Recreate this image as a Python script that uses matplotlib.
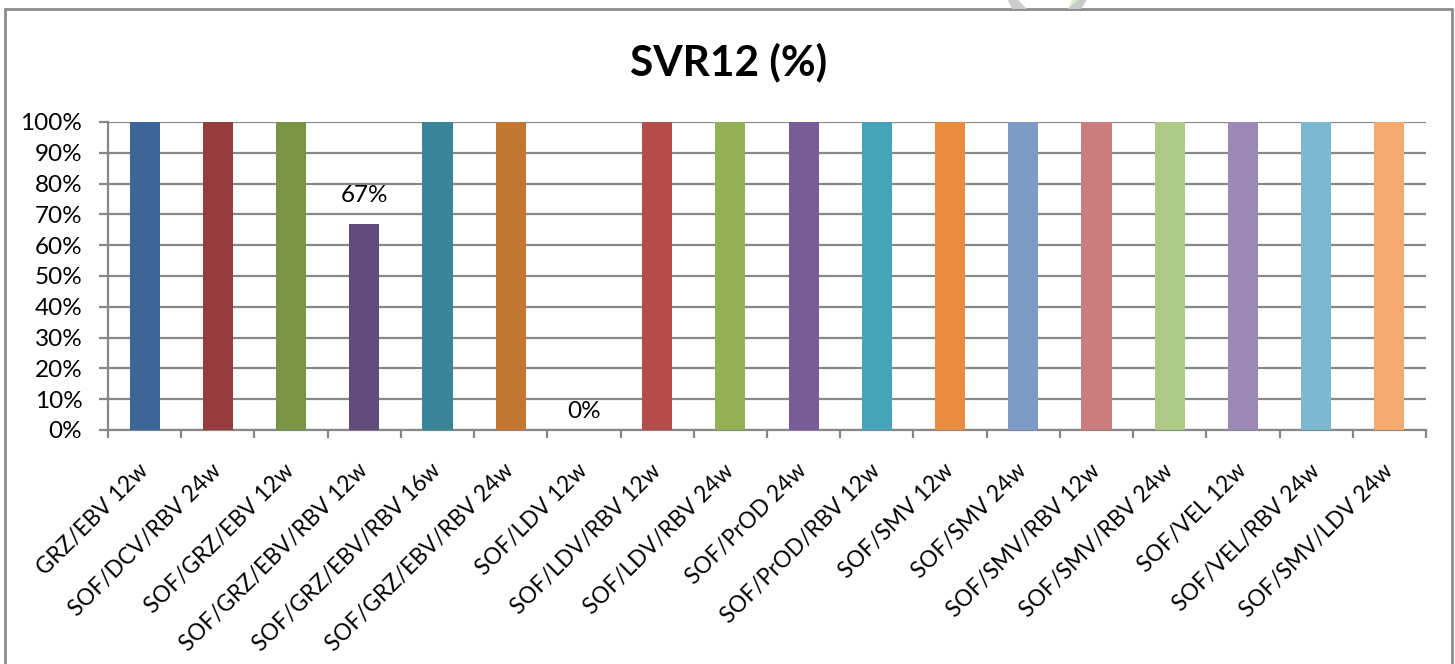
import matplotlib
matplotlib.use("Agg")
import matplotlib.pyplot as plt
from matplotlib.patches import Rectangle, Polygon
from matplotlib.ticker import FuncFormatter, MultipleLocator

# Regimens and SVR12 rates (%)
regimens = [
    "GRZ/EBV 12w", "SOF/DCV/RBV 24w", "SOF/GRZ/EBV 12w", "SOF/GRZ/EBV/RBV 12w",
    "SOF/GRZ/EBV/RBV 16w", "SOF/GRZ/EBV/RBV 24w", "SOF/LDV 12w", "SOF/LDV/RBV 12w",
    "SOF/LDV/RBV 24w", "SOF/PrOD 24w", "SOF/PrOD/RBV 12w", "SOF/SMV 12w",
    "SOF/SMV 24w", "SOF/SMV/RBV 12w", "SOF/SMV/RBV 24w", "SOF/VEL 12w",
    "SOF/VEL/RBV 24w", "SOF/SMV/LDV 24w",
]
svr12 = [100, 100, 100, 67, 100, 100, 0, 100, 100, 100, 100, 100, 100, 100, 100, 100, 100, 100]
labelled = {3: "67%", 6: "0%"}

bar_colors = [
    "#3D6598", "#963C3C", "#779544", "#624C7D", "#388698", "#C47633",
    "#4F81BD", "#B54B4B", "#92B054", "#775C98", "#47A3BA", "#E88C40",
    "#7E9BC8", "#CB7D7D", "#ADC986", "#9B89B5", "#7CB9D0", "#F6A96F",
]

W, H = 1455, 664
fig = plt.figure(figsize=(W / 100, H / 100), dpi=100)
fig.patch.set_facecolor("white")

FONT = "Lato"
grid_col = "#878787"

ax = fig.add_axes([108 / W, 1 - 430 / H, (1426 - 108) / W, (430 - 122) / H])
x = list(range(len(regimens)))
ax.bar(x, svr12, width=0.41, color=bar_colors, zorder=3)

ax.set_xlim(-0.5, len(regimens) - 0.5)
ax.set_ylim(0, 100)
ax.yaxis.set_major_locator(MultipleLocator(10))
ax.yaxis.set_major_formatter(FuncFormatter(lambda v, p: f"{v:.0f}%"))
ax.grid(axis="y", color=grid_col, linewidth=1.6, zorder=0)
ax.set_axisbelow(True)

for s in ("top", "right"):
    ax.spines[s].set_visible(False)
for s in ("left", "bottom"):
    ax.spines[s].set_color(grid_col)
    ax.spines[s].set_linewidth(1.6)

ax.tick_params(axis="y", length=6.5, width=1.6, color=grid_col, pad=12,
               labelsize=17.5, labelcolor="black")
for t in ax.get_yticklabels():
    t.set_fontfamily(FONT)

# category boundary ticks
ax.set_xticks([i - 0.5 for i in range(len(regimens) + 1)], minor=True)
ax.tick_params(axis="x", which="minor", length=6, width=1.6, color=grid_col)
ax.set_xticks(x)
ax.set_xticklabels(regimens, rotation=45, ha="right", va="center",
                   rotation_mode="anchor", fontsize=16.3, fontfamily=FONT)
ax.tick_params(axis="x", which="major", length=0, pad=27)

label_offsets = {3: 13, 6: 6}
for i, txt in labelled.items():
    ax.annotate(txt, (i, svr12[i]), xytext=(0, label_offsets[i]), textcoords="offset points",
                ha="center", va="bottom", fontsize=17.5, fontfamily=FONT)

fig.text(729 / W, 1 - 75 / H, "SVR12 (%)", ha="center", va="baseline",
         fontsize=30.5, fontweight="bold", fontfamily=FONT)

# chart frame
fig.patches.append(Rectangle((5 / W, -0.05), (1452 - 5) / W, 1.05 - 9 / H,
                             transform=fig.transFigure, fill=False,
                             edgecolor="#8C8C8C", linewidth=2))

# logo fragment peeking above the frame
fig.patches.append(Polygon([(1008 / W, 1.0), (1018 / W, 1.0), (1027 / W, 1 - 9 / H), (1012 / W, 1 - 9 / H)],
                           closed=True, transform=fig.transFigure,
                           facecolor="#CBCCCD", edgecolor="none"))
fig.patches.append(Polygon([(1068 / W, 1 - 9 / H), (1077 / W, 1.0), (1087 / W, 1.0), (1081 / W, 1 - 9 / H)],
                           closed=True, transform=fig.transFigure,
                           facecolor="#C9CBCB", edgecolor="none"))
fig.patches.append(Polygon([(1068 / W, 1 - 9 / H), (1072 / W, 1.0), (1078 / W, 1.0)],
                           closed=True, transform=fig.transFigure,
                           facecolor="#DCE6CF", edgecolor="none"))

fig.savefig("out.png", dpi=100)
